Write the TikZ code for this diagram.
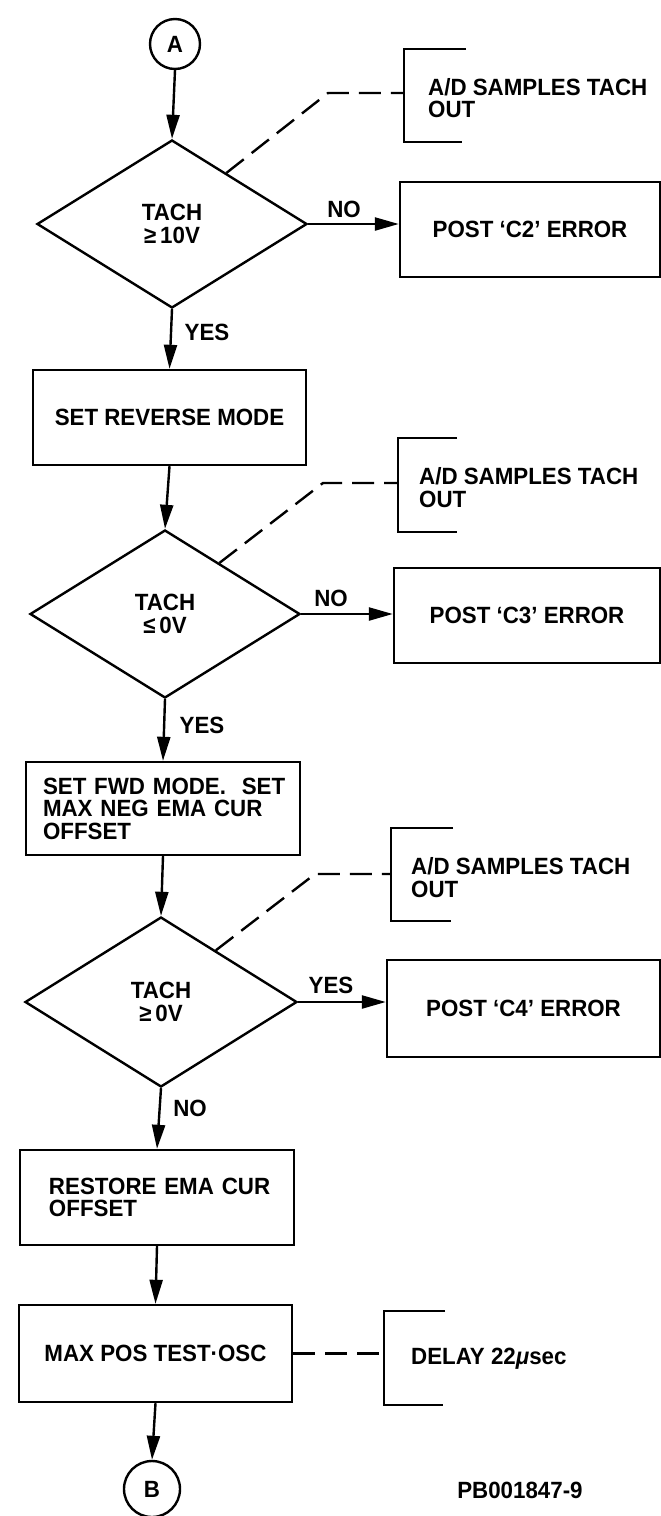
\documentclass[tikz,border=0pt]{standalone}
\usepackage{fontspec}
\setmainfont{Liberation Sans}[FakeStretch=0.95]
\usetikzlibrary{shapes.geometric,arrows.meta,calc}
\begin{document}
\begin{tikzpicture}[x=1pt,y=-1pt,
  every node/.style={font=\bfseries\fontsize{23.5}{22.5}\selectfont},
  ln/.style={line width=2.4pt},
  flow/.style={ln,-{Triangle[length=24pt,width=13pt]}},
  dsh/.style={ln,dash pattern=on 22pt off 10pt},
  box/.style={draw,ln,rectangle,inner sep=0pt,align=center},
  dec/.style={draw,ln,diamond,inner sep=0pt,align=center,minimum width=270pt,minimum height=168pt},
  conn/.style={draw,ln,circle,inner sep=0pt,minimum size=50pt},
  lbl/.style={inner sep=0pt},
  note/.style={inner sep=0pt,align=left,anchor=west},
]
\useasboundingbox (0,0) rectangle (661,1516);

% main flow nodes
\node[conn] (A) at (175,44) {A};
\node[dec] (d1) at (172,224) {TACH\\≥\,10V};
\node[box,minimum width=260pt,minimum height=95pt] (e2) at (530,229.5) {POST ‘C2’ ERROR};
\node[box,minimum width=273pt,minimum height=95pt] (r1) at (169.5,417.5) {SET REVERSE MODE};
\node[dec] (d2) at (165,614) {TACH\\≤\,0V};
\node[box,minimum width=266pt,minimum height=95pt] (e3) at (527,615.5) {POST ‘C3’ ERROR};
\node[box,minimum width=274pt,minimum height=93pt,text width=250pt,inner xsep=12pt,align=left] (f) at (163,808.5) {\hspace*{5pt}SET FWD MODE.\ \ SET\\\hspace*{5pt}MAX NEG EMA CUR\\\hspace*{5pt}OFFSET};
\node[dec,minimum width=272pt,minimum height=170pt] (d3) at (161,1002) {TACH\\≥\,0V};
\node[box,minimum width=273pt,minimum height=97pt] (e4) at (523.5,1008.5) {POST ‘C4’ ERROR};
\node[box,minimum width=274pt,minimum height=95pt,text width=240pt,inner xsep=17pt,align=left] (rs) at (157,1197.5) {\hspace*{12pt}RESTORE EMA CUR\\\hspace*{12pt}OFFSET};
\node[box,minimum width=273pt,minimum height=97pt] (mp) at (155.5,1353.5) {MAX POS TEST·OSC};
\node[conn,minimum size=56pt] (B) at (152,1489) {B};
\node[lbl] (pb) at (520,1490) {PB001847-9};

% annotation notes
\node[note] (n1) at (428,98) {A/D SAMPLES TACH\\OUT};
\node[note] (n2) at (419,487.5) {A/D SAMPLES TACH\\OUT};
\node[note] (n3) at (411,877.5) {A/D SAMPLES TACH\\OUT};
\node[note] (n4) at (411,1359) {DELAY 22{\itshape μ}sec};

% brackets
\draw[ln] (466,49) -- (404,49) -- (404,142) -- (462,142);
\draw[ln] (457,438) -- (398,438) -- (398,532) -- (457,532);
\draw[ln] (453,828) -- (391,828) -- (391,921) -- (451,921);
\draw[ln] (445,1311) -- (384,1311) -- (384,1405) -- (443,1405);
\coordinate (k1) at (404,93);
\coordinate (k2) at (398,483);
\coordinate (k3) at (391,874);
\coordinate (k4) at (384,1357);

% branch labels
\node[lbl] (l1) at (344,209) {NO};
\node[lbl] (l2) at (207,332) {YES};
\node[lbl] (l3) at (331,598) {NO};
\node[lbl] (l4) at (202,725) {YES};
\node[lbl] (l5) at (331,985) {YES};
\node[lbl] (l6) at (190,1108) {NO};

% flow arrows
\draw[flow] (A.south) -- (d1.north);
\draw[flow] (d1.east) -- (d1.east -| e2.west);
\draw[flow] (d1.south) -- (r1.north);
\draw[flow] (r1.south) -- (d2.north);
\draw[flow] (d2.east) -- (d2.east -| e3.west);
\draw[flow] (d2.south) -- (f.north);
\draw[flow] (f.south) -- (d3.north);
\draw[flow] (d3.east) -- (d3.east -| e4.west);
\draw[flow] (d3.south) -- (rs.north);
\draw[flow] (rs.south) -- (mp.north);
\draw[flow] (mp.south) -- (B.north);

% dashed annotation connectors
\draw[dsh] ($(d1.north)!0.4!(d1.east)$) -- (328,93) -- (k1);
\draw[dsh] ($(d2.north)!0.4!(d2.east)$) -- (323,483) -- (k2);
\draw[dsh] ($(d3.north)!0.4!(d3.east)$) -- (315,874) -- (k3);
\draw[dsh] (mp.east) -- (mp.east -| k4);
\end{tikzpicture}
\end{document}
